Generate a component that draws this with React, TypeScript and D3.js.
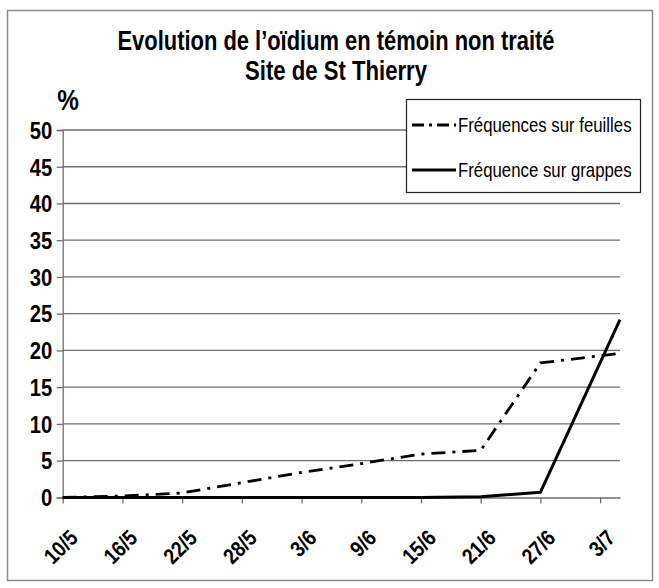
import React, { useEffect, useRef } from 'react';
import * as d3 from 'd3';

// measurement dates (day/month, 2000 season)
const dates = ['10/5', '16/5', '22/5', '3/6', '9/6', '15/6', '21/6', '27/6', '5/7'];
const feuilles = [0, 0.2, 0.6, 3.4, 4.6, 5.9, 6.4, 18.3, 19.6];
const grappes = [0, 0, 0, 0, 0, 0, 0.1, 0.7, 24.2];
const tickLabels = ['10/5', '16/5', '22/5', '28/5', '3/6', '9/6', '15/6', '21/6', '27/6', '3/7'];
const yTicks = [0, 5, 10, 15, 20, 25, 30, 35, 40, 45, 50];

// no narrow font installed, so squeeze Liberation Sans horizontally
const FONT = "'Liberation Sans', Arial, sans-serif";
const NARROW = 0.84;

const toDate = (s: string) => {
  const [d, m] = s.split('/').map(Number);
  return new Date(2000, m - 1, d);
};

function App() {
  const svgRef = useRef<SVGSVGElement>(null);

  useEffect(() => {
    const svg = d3.select(svgRef.current);
    svg.selectAll('*').remove();

    const x = d3.scaleTime()
      .domain([toDate('10/5'), toDate('5/7')])
      .range([62.7, 620]);
    const y = d3.scaleLinear().domain([0, 50]).range([497.4, 130]);

    // outer frame
    svg.append('rect')
      .attr('x', 7.5).attr('y', 10.5).attr('width', 645).attr('height', 570)
      .attr('fill', 'white').attr('stroke', '#8c8c8c').attr('stroke-width', 1.5);

    // title
    svg.append('text')
      .attr('text-anchor', 'middle')
      .attr('font-family', FONT).attr('font-weight', 'bold').attr('font-size', 28)
      .attr('x', 336).attr('y', 50)
      .attr('textLength', 437).attr('lengthAdjust', 'spacingAndGlyphs')
      .text('Evolution de l’oïdium en témoin non traité');
    svg.append('text')
      .attr('text-anchor', 'middle')
      .attr('font-family', FONT).attr('font-weight', 'bold').attr('font-size', 28)
      .attr('x', 336).attr('y', 80)
      .attr('textLength', 182).attr('lengthAdjust', 'spacingAndGlyphs')
      .text('Site de St Thierry');

    svg.append('text')
      .attr('transform', `translate(68,110) scale(${NARROW},1)`)
      .attr('text-anchor', 'middle')
      .attr('font-family', FONT).attr('font-weight', 'bold').attr('font-size', 29)
      .text('%');

    // gridlines
    svg.append('g').selectAll('line')
      .data(yTicks.filter((t) => t > 0))
      .enter().append('line')
      .attr('x1', x.range()[0]).attr('x2', x.range()[1])
      .attr('y1', (d) => y(d)).attr('y2', (d) => y(d))
      .attr('stroke', '#6e6e6e').attr('stroke-width', 1.3);

    // y axis
    const yAxis = svg.append('g')
      .attr('transform', `translate(${x.range()[0]},0)`)
      .call(d3.axisLeft(y).tickValues(yTicks).tickSize(6).tickPadding(6));
    yAxis.select('.domain').attr('stroke', '#6e6e6e').attr('stroke-width', 1.3);
    yAxis.selectAll('.tick line').attr('stroke', '#6e6e6e').attr('stroke-width', 1.3);
    yAxis.selectAll('.tick text')
      .attr('font-family', FONT).attr('font-weight', 'bold').attr('font-size', 23)
      .attr('fill', '#000').attr('dy', '0.36em')
      .attr('transform', 'scale(0.88,1)');

    // x axis
    const xAxis = svg.append('g')
      .attr('transform', `translate(0,${y(0)})`)
      .call(d3.axisBottom(x)
        .tickValues(tickLabels.map(toDate))
        .tickFormat((d) => d3.timeFormat('%-d/%-m')(d as Date))
        .tickSize(6).tickSizeOuter(0));
    xAxis.select('.domain').attr('stroke', '#6e6e6e').attr('stroke-width', 1.5);
    xAxis.selectAll('.tick line').attr('stroke', '#6e6e6e').attr('stroke-width', 1.3);
    xAxis.selectAll('.tick text')
      .attr('font-family', FONT).attr('font-weight', 'bold').attr('font-size', 22)
      .attr('fill', '#000')
      .attr('text-anchor', 'end')
      .attr('y', 0)
      .attr('dy', '0.7em')
      .attr('transform', `translate(5,31) rotate(-45) scale(0.86,1)`);

    // series
    const pts = (vals: number[]) => vals.map((v, i) => [toDate(dates[i]), v] as [Date, number]);
    const line = d3.line<[Date, number]>().x((d) => x(d[0])).y((d) => y(d[1]));

    svg.append('path')
      .attr('d', line(pts(grappes)))
      .attr('fill', 'none').attr('stroke', '#000').attr('stroke-width', 3)
      .attr('stroke-linejoin', 'round');

    svg.append('path')
      .attr('d', line(pts(feuilles)))
      .attr('fill', 'none').attr('stroke', '#000').attr('stroke-width', 2.8)
      .attr('stroke-dasharray', '14,7,3,7');

    // legend
    const legend = svg.append('g');
    legend.append('rect')
      .attr('x', 406.5).attr('y', 99.5).attr('width', 234).attr('height', 93)
      .attr('fill', 'white').attr('stroke', '#222').attr('stroke-width', 1.2);
    const items = [
      { label: 'Fréquences sur feuilles', dash: '12,5,3,5', y: 125 },
      { label: 'Fréquence sur grappes', dash: null, y: 170 },
    ];
    items.forEach((it) => {
      legend.append('line')
        .attr('x1', 412).attr('x2', 456).attr('y1', it.y).attr('y2', it.y)
        .attr('stroke', '#000').attr('stroke-width', 2.8)
        .attr('stroke-dasharray', it.dash);
      legend.append('text')
        .attr('transform', `translate(458,${it.y + 7}) scale(${NARROW},1)`)
        .attr('font-family', FONT).attr('font-size', 20)
        .text(it.label);
    });
  }, []);

  return (
    <svg ref={svgRef} width={659} height={588}
      style={{ position: 'absolute', left: 0, top: 0, background: 'white' }} />
  );
}

export default App;
